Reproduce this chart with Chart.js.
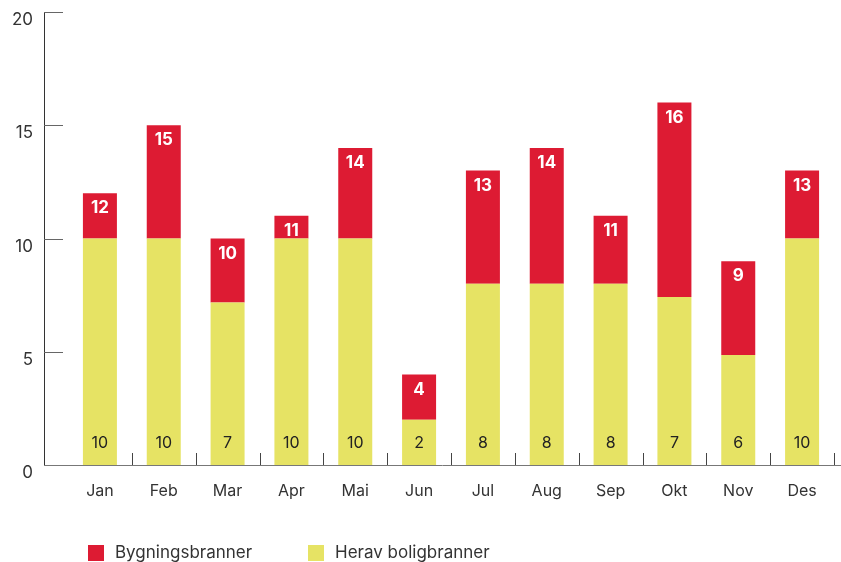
<!DOCTYPE html>
<html lang="no">
<head>
<meta charset="UTF-8">
<title>Bygningsbranner</title>
<script src="https://cdn.jsdelivr.net/npm/chart.js@4/dist/chart.umd.min.js"></script>
<style>
  html, body { margin: 0; padding: 0; background: #fff; }
  #wrap { position: relative; width: 841px; height: 562px; }
</style>
</head>
<body>
<div id="wrap"><canvas id="chart" width="841" height="562"></canvas></div>
<script>
const months = ['Jan', 'Feb', 'Mar', 'Apr', 'Mai', 'Jun', 'Jul', 'Aug', 'Sep', 'Okt', 'Nov', 'Des'];
const bygningsbranner = [12, 15, 10, 11, 14, 4, 13, 14, 11, 16, 9, 13];
// bar heights as drawn, and the numbers printed on them
const boligHeights = [10, 10, 7.17, 10, 10, 2, 8, 8, 8, 7.42, 4.86, 10];
const boligLabels = [10, 10, 7, 10, 10, 2, 8, 8, 8, 7, 6, 10];
const yTicks = [0, 5, 10, 15, 20];

const RED = '#DD1B33';
const YELLOW = '#E6E364';
const FONT = 'Inter, "DejaVu Sans", sans-serif';

// red part sits on top of the yellow part
const restHeights = bygningsbranner.map((t, i) => t - boligHeights[i]);

// axis lines, tick marks, bar labels and legend
const decor = {
  id: 'decor',
  afterDatasetsDraw(chart) {
    const ctx = chart.ctx;
    const a = chart.chartArea;
    const y = chart.scales.y;
    const axisX = a.left - 24;
    ctx.save();

    // y axis
    ctx.strokeStyle = '#333';
    ctx.lineWidth = 1;
    ctx.beginPath();
    ctx.moveTo(axisX + 0.5, a.top);
    ctx.lineTo(axisX + 0.5, a.bottom);
    ctx.stroke();
    ctx.strokeStyle = '#666';
    yTicks.forEach(v => {
      const py = Math.round(y.getPixelForValue(v)) + 0.5;
      ctx.beginPath();
      ctx.moveTo(axisX, py);
      ctx.lineTo(axisX + 19, py);
      ctx.stroke();
    });

    // x axis
    ctx.strokeStyle = '#777';
    ctx.beginPath();
    ctx.moveTo(axisX, Math.round(a.bottom) + 0.5);
    ctx.lineTo(chart.width, Math.round(a.bottom) + 0.5);
    ctx.stroke();
    ctx.strokeStyle = '#444';
    const step = (a.right - a.left) / months.length;
    for (let i = 1; i <= months.length; i++) {
      const px = Math.round(a.left + step * i) + 0.5;
      ctx.beginPath();
      ctx.moveTo(px, a.bottom - 12);
      ctx.lineTo(px, a.bottom);
      ctx.stroke();
    }

    // labels on bars
    const redMeta = chart.getDatasetMeta(1);
    const yelMeta = chart.getDatasetMeta(0);
    ctx.textAlign = 'center';
    ctx.textBaseline = 'middle';
    redMeta.data.forEach((bar, i) => {
      ctx.fillStyle = '#fff';
      ctx.font = 'bold 17px ' + FONT;
      ctx.fillText(String(bygningsbranner[i]), bar.x, bar.y + 15);
    });
    yelMeta.data.forEach((bar, i) => {
      ctx.fillStyle = '#222';
      ctx.font = '16px ' + FONT;
      ctx.fillText(String(boligLabels[i]), bar.x, a.bottom - 22);
    });

    // legend
    const items = [
      { text: 'Bygningsbranner', color: RED, x: 88 },
      { text: 'Herav boligbranner', color: YELLOW, x: 308 }
    ];
    ctx.textAlign = 'left';
    ctx.font = '17px ' + FONT;
    items.forEach(it => {
      ctx.fillStyle = it.color;
      ctx.fillRect(it.x, 545, 16, 16);
      ctx.fillStyle = '#333';
      ctx.fillText(it.text, it.x + 27, 553);
    });
    ctx.restore();
  }
};

new Chart(document.getElementById('chart'), {
  type: 'bar',
  data: {
    labels: months,
    datasets: [{
      label: 'Herav boligbranner',
      data: boligHeights,
      backgroundColor: YELLOW,
      barThickness: 34,
      inflateAmount: 0
    }, {
      label: 'Bygningsbranner',
      data: restHeights,
      backgroundColor: RED,
      barThickness: 34,
      inflateAmount: 0
    }]
  },
  options: {
    responsive: false,
    animation: false,
    layout: { padding: { top: 12, right: 7, left: 0, bottom: 0 } },
    plugins: { legend: { display: false }, tooltip: { enabled: false } },
    scales: {
      x: {
        stacked: true,
        grid: { display: false, drawTicks: false },
        border: { display: false },
        ticks: { color: '#333', font: { family: FONT, size: 16 }, padding: 17 },
        afterFit(s) { s.height = 97; }
      },
      y: {
        stacked: true,
        min: 0,
        max: 20,
        afterBuildTicks(s) { s.ticks = yTicks.map(v => ({ value: v })); },
        grid: { display: false, drawTicks: false },
        border: { display: false },
        ticks: { color: '#333', font: { family: FONT, size: 17 }, padding: 35, labelOffset: 8 },
        afterFit(s) { s.width = 68; s.paddingTop = 0; s.paddingBottom = 0; }
      }
    }
  },
  plugins: [decor]
});
</script>
</body>
</html>
